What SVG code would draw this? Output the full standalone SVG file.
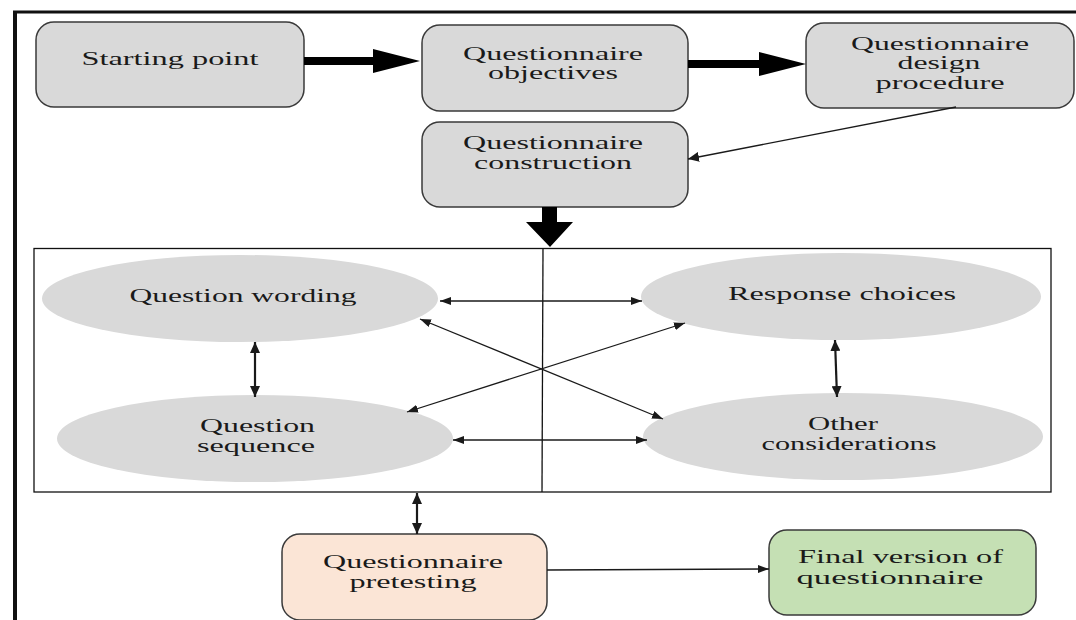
<svg xmlns="http://www.w3.org/2000/svg" width="1076" height="620" viewBox="0 0 1076 620">
<style>
.box{fill:#d9d9d9;stroke:#3a3a3a;stroke-width:1.5}
.ell{fill:#d9d9d9;stroke:none}
text{font-family:'Liberation Serif','DejaVu Serif',serif;font-size:18px;fill:#1a1a1a;text-anchor:middle}
.ln{fill:none;stroke:#1a1a1a;stroke-width:1.3}
.lnb{fill:none;stroke:#1a1a1a;stroke-width:2.2}
.frame{fill:none;stroke:#111;stroke-width:1.3}
</style>
<defs>
<marker id="ah" markerUnits="userSpaceOnUse" markerWidth="11" markerHeight="8" refX="11" refY="4" orient="auto-start-reverse"><path d="M0,0 L11,4 L0,8 z" fill="#1a1a1a"/></marker>
<marker id="ahb" markerUnits="userSpaceOnUse" markerWidth="11" markerHeight="10" refX="11" refY="5" orient="auto-start-reverse"><path d="M0,0 L11,5 L0,10 z" fill="#1a1a1a"/></marker>
</defs>
<rect width="1076" height="620" fill="#fff"/>
<line x1="13" y1="12" x2="1076" y2="12" stroke="#111" stroke-width="3"/>
<line x1="15" y1="11" x2="15" y2="620" stroke="#111" stroke-width="4"/>
<rect class="frame" x="34" y="248.5" width="1017" height="243.5"/>
<line class="frame" x1="543" y1="248" x2="542" y2="492"/>

<g font-family="Liberation Serif, DejaVu Serif, serif">
<g id="n-start">
<rect class="box" x="36" y="22" width="268" height="85" rx="18"/>
<text x="170" y="65" textLength="177" lengthAdjust="spacingAndGlyphs">Starting point</text>
</g>
<g id="n-objectives">
<rect class="box" x="422" y="25" width="266" height="86" rx="18"/>
<text x="553" y="59.5" textLength="180" lengthAdjust="spacingAndGlyphs">Questionnaire</text>
<text x="553" y="79" textLength="130" lengthAdjust="spacingAndGlyphs">objectives</text>
</g>
<g id="n-design">
<rect class="box" x="806" y="23" width="268" height="85" rx="18"/>
<text x="940" y="50" textLength="178" lengthAdjust="spacingAndGlyphs">Questionnaire</text>
<text x="939" y="69" textLength="83" lengthAdjust="spacingAndGlyphs">design</text>
<text x="940" y="89" textLength="129" lengthAdjust="spacingAndGlyphs">procedure</text>
</g>
<g id="n-construction">
<rect class="box" x="422" y="122" width="266" height="85" rx="18"/>
<text x="553" y="149" textLength="180" lengthAdjust="spacingAndGlyphs">Questionnaire</text>
<text x="553" y="168.5" textLength="158" lengthAdjust="spacingAndGlyphs">construction</text>
</g>
<g id="n-wording">
<ellipse class="ell" cx="240" cy="298.5" rx="198" ry="43.5"/>
<text x="243" y="301.5" textLength="227" lengthAdjust="spacingAndGlyphs">Question wording</text>
</g>
<g id="n-response">
<ellipse class="ell" cx="841" cy="296.5" rx="200" ry="43.5"/>
<text x="842" y="299.5" textLength="228" lengthAdjust="spacingAndGlyphs">Response choices</text>
</g>
<g id="n-sequence">
<ellipse class="ell" cx="255" cy="438.5" rx="198" ry="43.5"/>
<text x="257.5" y="431.5" textLength="115" lengthAdjust="spacingAndGlyphs">Question</text>
<text x="256" y="451.5" textLength="118" lengthAdjust="spacingAndGlyphs">sequence</text>
</g>
<g id="n-other">
<ellipse class="ell" cx="843" cy="436.5" rx="200" ry="43.5"/>
<text x="843" y="429.5" textLength="70" lengthAdjust="spacingAndGlyphs">Other</text>
<text x="849" y="449.5" textLength="175" lengthAdjust="spacingAndGlyphs">considerations</text>
</g>
<g id="n-pretesting">
<rect x="282" y="534" width="265" height="86" rx="18" fill="#fbe5d6" stroke="#3a3a3a" stroke-width="1.5"/>
<text x="413" y="567.5" textLength="180" lengthAdjust="spacingAndGlyphs">Questionnaire</text>
<text x="413" y="587.5" textLength="127" lengthAdjust="spacingAndGlyphs">pretesting</text>
</g>
<g id="n-final">
<rect x="769" y="530" width="267" height="85" rx="18" fill="#c5e0b4" stroke="#3a3a3a" stroke-width="1.5"/>
<text x="900.5" y="563" textLength="205" lengthAdjust="spacingAndGlyphs">Final version of</text>
<text x="890" y="583.5" textLength="187" lengthAdjust="spacingAndGlyphs">questionnaire</text>
</g>
</g>

<g id="connectors">
<polygon points="304,57 373,57 373,49 420,61 373,73 373,65 304,65" fill="#000"/>
<polygon points="688,60 759,60 759,52 806,64 759,76 759,68 688,68" fill="#000"/>
<polygon points="542,207 557,207 557,222 573,222 550,247 526,222 542,222" fill="#000"/>
<line class="ln" x1="956" y1="107" x2="688" y2="159" stroke-width="2" marker-end="url(#ahb)"/>
<line class="ln" x1="440" y1="301" x2="642" y2="301" marker-start="url(#ah)" marker-end="url(#ah)"/>
<line class="ln" x1="453" y1="440" x2="647" y2="440" marker-start="url(#ah)" marker-end="url(#ah)"/>
<line class="ln" x1="420" y1="319" x2="663" y2="419" marker-start="url(#ah)" marker-end="url(#ah)"/>
<line class="ln" x1="685" y1="323" x2="407" y2="412" marker-start="url(#ah)" marker-end="url(#ah)"/>
<line class="lnb" x1="255" y1="342" x2="255" y2="397" marker-start="url(#ahb)" marker-end="url(#ahb)"/>
<line class="lnb" x1="835" y1="340" x2="837" y2="397" marker-start="url(#ahb)" marker-end="url(#ahb)"/>
<line class="lnb" x1="417" y1="493" x2="417" y2="534" stroke-width="2.6" marker-start="url(#ahb)" marker-end="url(#ahb)"/>
<line class="ln" x1="547" y1="570" x2="769" y2="569" stroke-width="1.6" marker-end="url(#ah)"/>
</g>
</svg>
